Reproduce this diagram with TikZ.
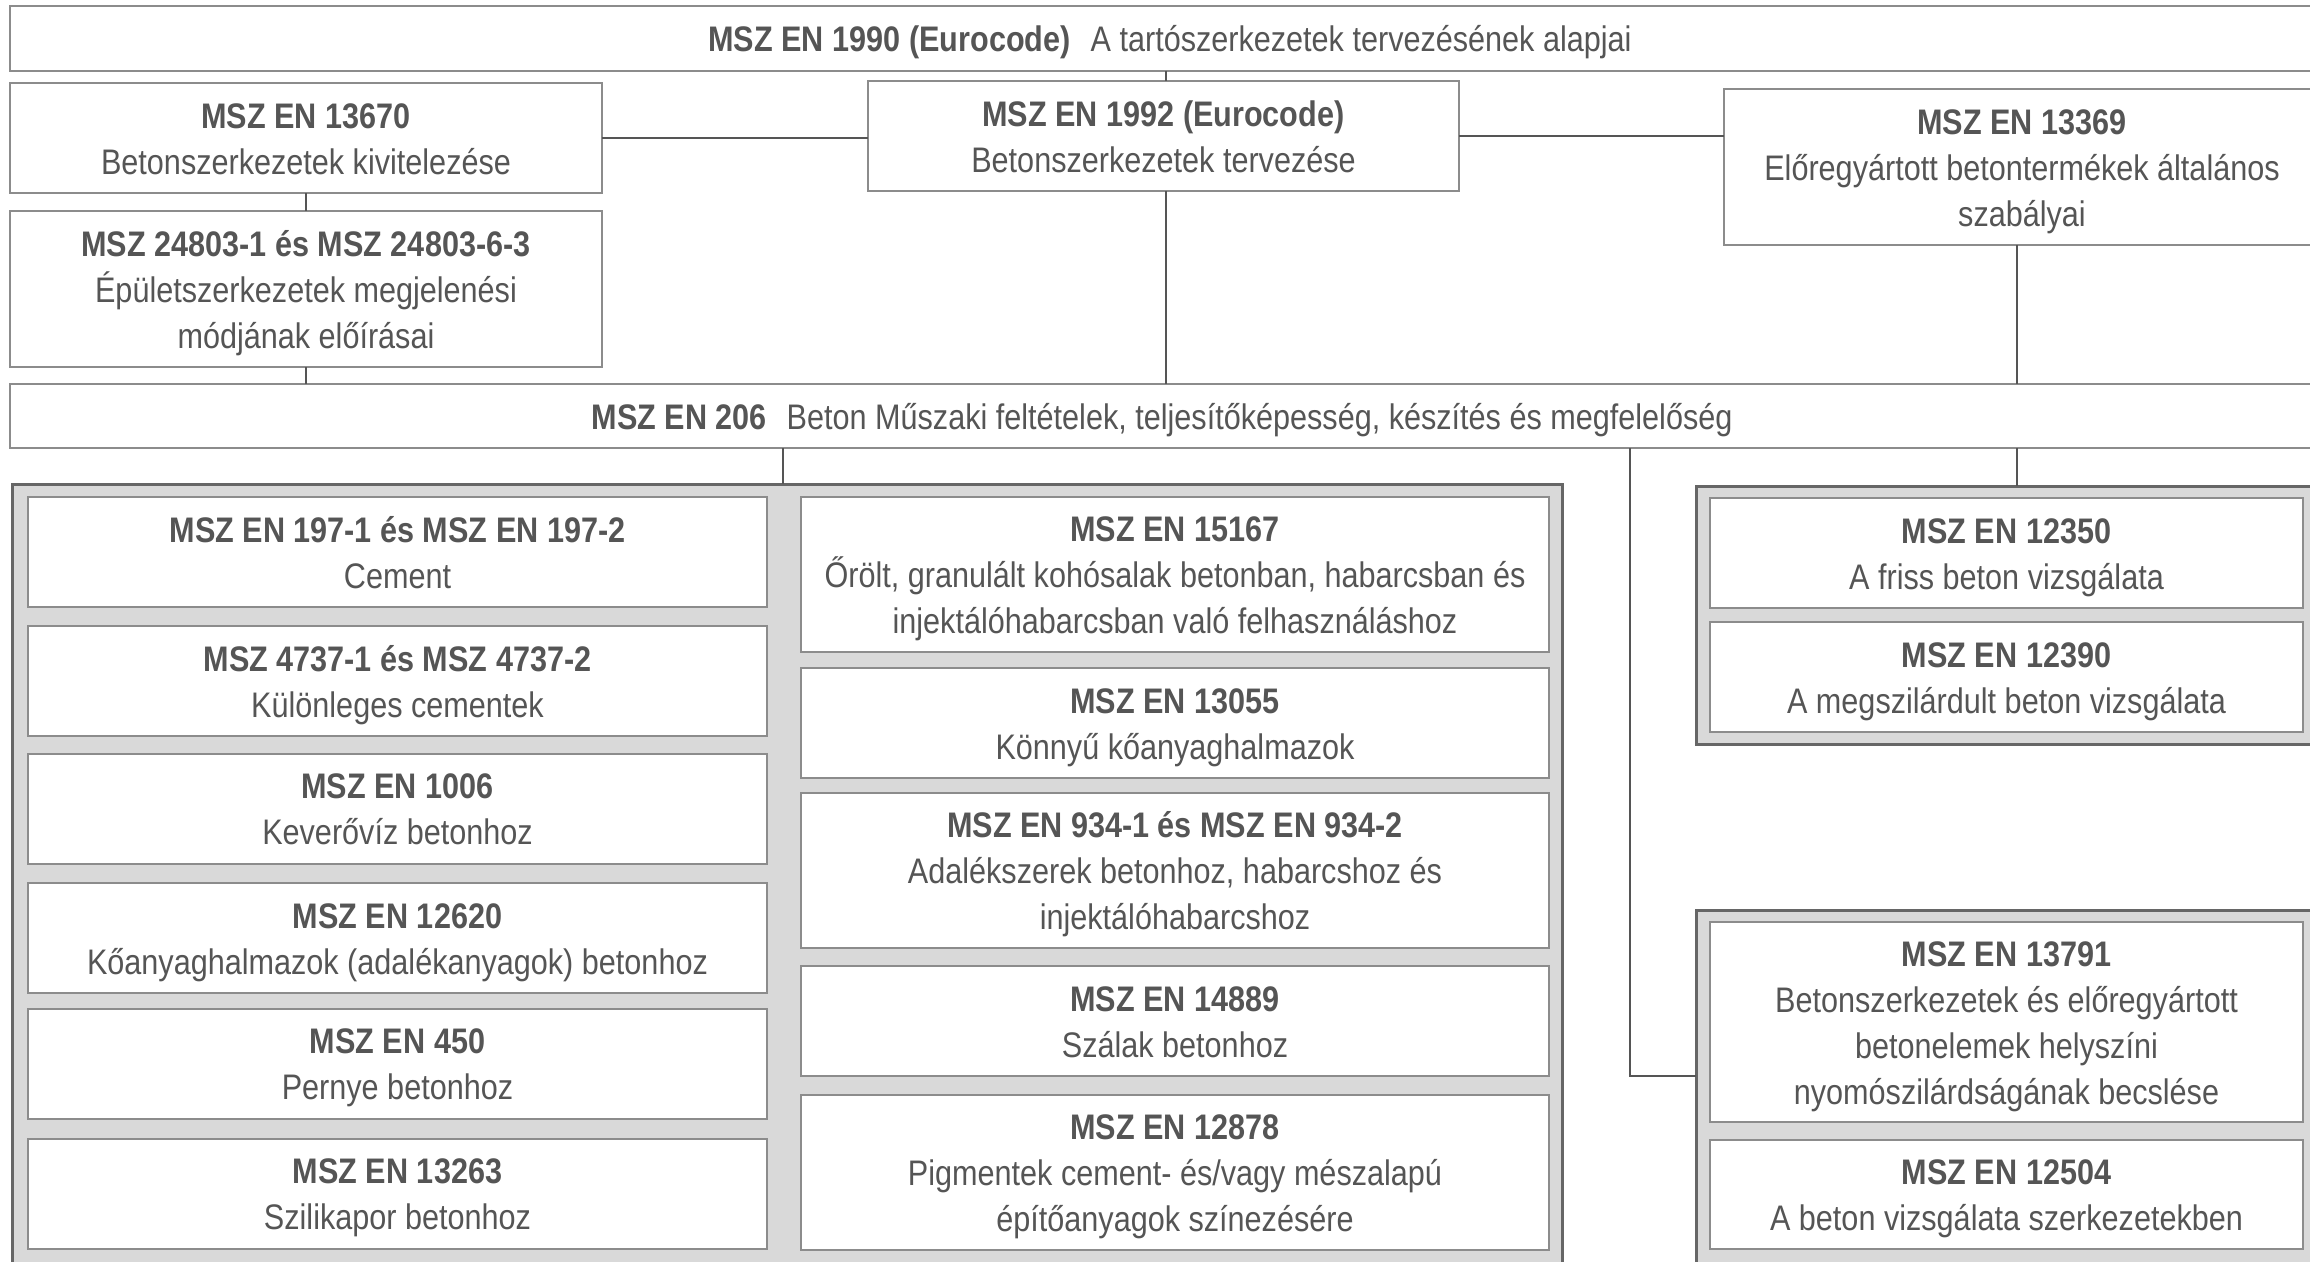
\documentclass[tikz,border=0pt]{standalone}
\usepackage{fontspec}
\setmainfont{Liberation Sans}[FakeStretch=0.862]
\definecolor{txt}{HTML}{555555}
\definecolor{bord}{HTML}{8C8C8C}
\definecolor{gborder}{HTML}{666666}
\definecolor{gfill}{HTML}{D9D9D9}
\definecolor{conncol}{HTML}{555555}
\newcommand\fs{\fontsize{35.5}{46}\selectfont}
\newcommand\bt{\rule{0pt}{34pt}}
\newcommand\bb{\rule[-8pt]{0pt}{8pt}}
\tikzset{
 box/.style={draw=bord, line width=2pt, fill=white, text=txt, align=center,
   inner sep=0pt, outer sep=0pt, font=\fs},
 grp/.style={draw=gborder, line width=3pt, fill=gfill, inner sep=0pt, outer sep=0pt},
 conn/.style={draw=conncol, line width=1.3pt},
}
\begin{document}
\begin{tikzpicture}[x=1pt,y=-1pt]
\useasboundingbox (0,0) rectangle (2310,1261);
\clip (0,0) rectangle (2310,1261);
\fill[white] (0,0) rectangle (2310,1261);

% upper part
\node[box, minimum width=2320, minimum height=65] (top) at (1170,38.5)
  {\bt\textbf{MSZ EN 1990 (Eurocode)}\hspace{20pt}A tartószerkezetek tervezésének alapjai\bb};
\node[box, minimum width=592, minimum height=110] (b13670) at (306,138)
  {\bt\textbf{MSZ EN 13670}\\Betonszerkezetek kivitelezése\bb};
\node[box, minimum width=591, minimum height=110] (b1992) at (1163.5,136)
  {\bt\textbf{MSZ EN 1992 (Eurocode)}\\Betonszerkezetek tervezése\bb};
\node[box, minimum width=596, minimum height=156] (b13369) at (2022,167)
  {\bt\textbf{MSZ EN 13369}\\Előregyártott betontermékek általános\\szabályai\bb};
\node[box, minimum width=592, minimum height=156] (b24803) at (306,289)
  {\bt\textbf{MSZ 24803-1 és MSZ 24803-6-3}\\Épületszerkezetek megjelenési\\módjának előírásai\bb};
\node[box, minimum width=2304, minimum height=64] (b206) at (1162,416)
  {\bt\textbf{MSZ EN 206}\hspace{20pt}Beton Műszaki feltételek, teljesítőképesség, készítés és megfelelőség\bb};

% groups
\node[grp, minimum width=1550, minimum height=816] (grpL) at (787,892) {};
\node[grp, minimum width=634, minimum height=258] (grpR1) at (2013,615) {};
\node[grp, minimum width=634, minimum height=390] (grpR2) at (2013,1105) {};

% left column
\node[box, minimum width=739, minimum height=110] (L1) at (397.5,552)
  {\bt\textbf{MSZ EN 197-1 és MSZ EN 197-2}\\Cement\bb};
\node[box, minimum width=739, minimum height=110] (L2) at (397.5,681)
  {\bt\textbf{MSZ 4737-1 és MSZ 4737-2}\\Különleges cementek\bb};
\node[box, minimum width=739, minimum height=110] (L3) at (397.5,808.5)
  {\bt\textbf{MSZ EN 1006}\\Keverővíz betonhoz\bb};
\node[box, minimum width=739, minimum height=110] (L4) at (397.5,938)
  {\bt\textbf{MSZ EN 12620}\\Kőanyaghalmazok (adalékanyagok) betonhoz\bb};
\node[box, minimum width=739, minimum height=110] (L5) at (397.5,1063.5)
  {\bt\textbf{MSZ EN 450}\\Pernye betonhoz\bb};
\node[box, minimum width=739, minimum height=110] (L6) at (397.5,1193.5)
  {\bt\textbf{MSZ EN 13263}\\Szilikapor betonhoz\bb};

% middle column
\node[box, minimum width=748, minimum height=155] (M1) at (1175,574.5)
  {\bt\textbf{MSZ EN 15167}\\Őrölt, granulált kohósalak betonban, habarcsban és\\injektálóhabarcsban való felhasználáshoz\bb};
\node[box, minimum width=748, minimum height=110] (M2) at (1175,723)
  {\bt\textbf{MSZ EN 13055}\\Könnyű kőanyaghalmazok\bb};
\node[box, minimum width=748, minimum height=155] (M3) at (1175,870.5)
  {\bt\textbf{MSZ EN 934-1 és MSZ EN 934-2}\\Adalékszerek betonhoz, habarcshoz és\\injektálóhabarcshoz\bb};
\node[box, minimum width=748, minimum height=110] (M4) at (1175,1021)
  {\bt\textbf{MSZ EN 14889}\\Szálak betonhoz\bb};
\node[box, minimum width=748, minimum height=155] (M5) at (1175,1172.5)
  {\bt\textbf{MSZ EN 12878}\\Pigmentek cement- és/vagy mészalapú\\építőanyagok színezésére\bb};

% right groups
\node[box, minimum width=593, minimum height=110] (R1) at (2006.5,553)
  {\bt\textbf{MSZ EN 12350}\\A friss beton vizsgálata\bb};
\node[box, minimum width=593, minimum height=110] (R2) at (2006.5,677)
  {\bt\textbf{MSZ EN 12390}\\A megszilárdult beton vizsgálata\bb};
\node[box, minimum width=593, minimum height=200] (R3) at (2006.5,1022)
  {\bt\textbf{MSZ EN 13791}\\Betonszerkezetek és előregyártott\\betonelemek helyszíni\\nyomószilárdságának becslése\bb};
\node[box, minimum width=593, minimum height=109] (R4) at (2006.5,1194.5)
  {\bt\textbf{MSZ EN 12504}\\A beton vizsgálata szerkezetekben\bb};

% connectors
\coordinate (xa) at (1166,0);
\coordinate (xb) at (2017,0);
\coordinate (xc) at (783,0);
\coordinate (xd) at (1630,0);
\coordinate (yd) at (0,1076);
\draw[conn] (xa |- top.south) -- (xa |- b1992.north);
\draw[conn] (xa |- b1992.south) -- (xa |- b206.north);
\draw[conn] (b13670.east) -- (b13670.east -| b1992.west);
\draw[conn] (b1992.east) -- (b1992.east -| b13369.west);
\draw[conn] (b13670.south) -- (b24803.north);
\draw[conn] (b24803.south) -- (b24803.south |- b206.north);
\draw[conn] (xb |- b13369.south) -- (xb |- b206.north);
\draw[conn] (xb |- b206.south) -- (xb |- grpR1.north);
\draw[conn] (xc |- b206.south) -- (xc |- grpL.north);
\draw[conn] (xd |- b206.south) -- (xd |- yd) -- (grpR2.west |- yd);
\end{tikzpicture}
\end{document}
